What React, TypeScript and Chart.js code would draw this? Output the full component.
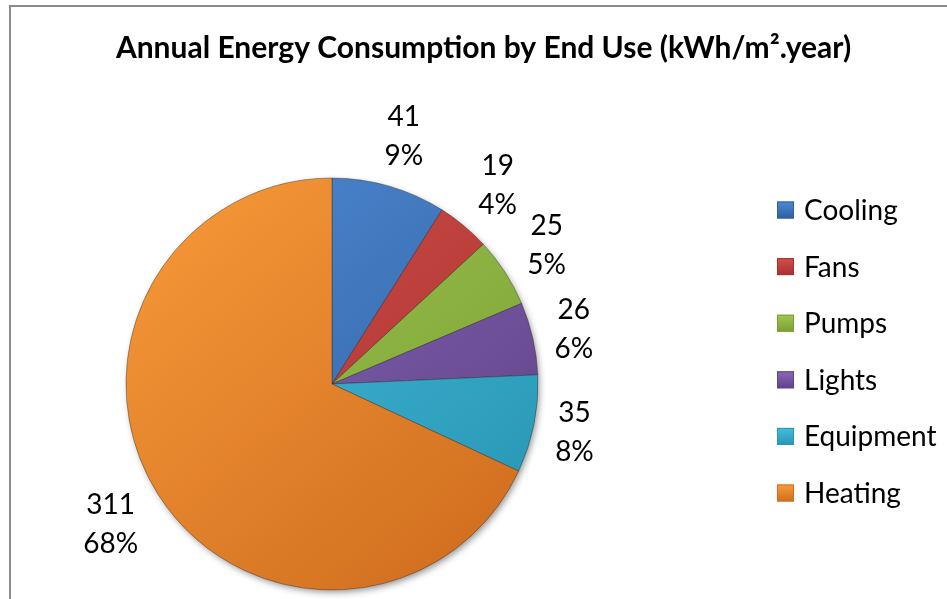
import React, { useEffect, useRef } from 'react';
import { Chart, registerables } from 'chart.js';

Chart.register(...registerables);

const titleText = 'Annual Energy Consumption by End Use (kWh/m².year)';
const categories = ['Cooling', 'Fans', 'Pumps', 'Lights', 'Equipment', 'Heating'];
const values = [41, 19, 25, 26, 35, 311];

const lightColors = ['#4F8AD4', '#D2504C', '#A2C855', '#8A68B8', '#46BDDD', '#F99A3A'];
const darkColors = ['#2F5F9F', '#A8302E', '#78A030', '#5F4288', '#2896B4', '#CF6D1E'];

const FONT = 'Lato, "Open Sans", sans-serif';

const total = values.reduce((s, v) => s + v, 0);
const percentLabels = values.map((v) => Math.round((v / total) * 100) + '%');

const PIE_RADIUS = 206;

function sliceFill(context: any) {
  const i = context.dataIndex;
  const chart = context.chart;
  const area = chart.chartArea;
  if (!area) return lightColors[i];
  const cx = (area.left + area.right) / 2;
  const cy = (area.top + area.bottom) / 2;
  const g = chart.ctx.createLinearGradient(cx - PIE_RADIUS, cy - PIE_RADIUS, cx + PIE_RADIUS * 0.7, cy + PIE_RADIUS);
  g.addColorStop(0, lightColors[i]);
  g.addColorStop(1, darkColors[i]);
  return g;
}

const overlay = {
  id: 'overlay',
  beforeDatasetsDraw(chart: any) {
    const meta = chart.getDatasetMeta(0);
    const a = meta.data[0];
    if (!a) return;
    const ctx = chart.ctx;
    ctx.save();
    ctx.shadowColor = 'rgba(0,0,0,0.45)';
    ctx.shadowBlur = 7;
    ctx.shadowOffsetX = 2;
    ctx.shadowOffsetY = 3;
    ctx.beginPath();
    ctx.arc(a.x, a.y, a.outerRadius - 1, 0, Math.PI * 2);
    ctx.fillStyle = '#999';
    ctx.fill();
    ctx.restore();
  },
  afterDatasetsDraw(chart: any) {
    const ctx = chart.ctx;
    const meta = chart.getDatasetMeta(0);
    ctx.save();

    // Title
    ctx.fillStyle = '#000';
    ctx.font = 'bold 30px ' + FONT;
    ctx.textAlign = 'center';
    ctx.textBaseline = 'middle';
    ctx.fillText(titleText, 483.5, 48);

    // Data labels
    ctx.font = '28px ' + FONT;
    const lineGap = 39;
    meta.data.forEach((arc: any, i: number) => {
      const mid = (arc.startAngle + arc.endAngle) / 2;
      const l1 = String(values[i]);
      const l2 = percentLabels[i];
      const w = Math.max(ctx.measureText(l1).width, ctx.measureText(l2).width) / 2;
      const h = 32;
      const r = arc.outerRadius + 16 + w * Math.abs(Math.cos(mid)) + h * Math.abs(Math.sin(mid));
      const x = arc.x + r * Math.cos(mid);
      const y = arc.y + r * Math.sin(mid);
      ctx.fillText(l1, x, y - lineGap / 2);
      ctx.fillText(l2, x, y + lineGap / 2);
    });

    // Legend
    const legendX = 777;
    const legendTop = 210;
    const legendStep = 56.6;
    const box = 17;
    ctx.textAlign = 'left';
    categories.forEach((c, i) => {
      const cy = legendTop + i * legendStep;
      const g = ctx.createLinearGradient(0, cy - box / 2, 0, cy + box / 2);
      g.addColorStop(0, lightColors[i]);
      g.addColorStop(1, darkColors[i]);
      ctx.fillStyle = g;
      ctx.fillRect(legendX, cy - box / 2, box, box);
      ctx.strokeStyle = darkColors[i];
      ctx.lineWidth = 1;
      ctx.strokeRect(legendX + 0.5, cy - box / 2 + 0.5, box - 1, box - 1);
      ctx.fillStyle = '#000';
      ctx.fillText(c, legendX + box + 10, cy + 1);
    });
    ctx.restore();
  },
};

export default function App() {
  const canvasRef = useRef<HTMLCanvasElement | null>(null);

  useEffect(() => {
    if (!canvasRef.current) return;
    const chart = new Chart(canvasRef.current, {
      type: 'pie',
      data: {
        labels: categories,
        datasets: [
          {
            data: values,
            backgroundColor: sliceFill as any,
            borderColor: 'rgba(40,40,40,0.4)',
            borderWidth: 1,
            radius: PIE_RADIUS,
          } as any,
        ],
      },
      options: {
        responsive: false,
        animation: false,
        layout: { padding: { left: 126, right: 409, top: 178, bottom: 9 } },
        plugins: {
          legend: { display: false },
          title: { display: false },
          tooltip: { enabled: false },
        },
      },
      plugins: [overlay],
    });
    return () => chart.destroy();
  }, []);

  return (
    <div style={{ position: 'fixed', left: 0, top: 0, width: 947, height: 599, overflow: 'hidden', background: '#fff' }}>
      <div
        style={{
          position: 'absolute',
          left: 9,
          top: 5,
          width: 1000,
          height: 1000,
          border: '2px solid #8a8a8a',
        }}
      />
      <canvas ref={canvasRef} width={947} height={599} style={{ position: 'absolute', left: 0, top: 0, width: 947, height: 599 }} />
    </div>
  );
}
